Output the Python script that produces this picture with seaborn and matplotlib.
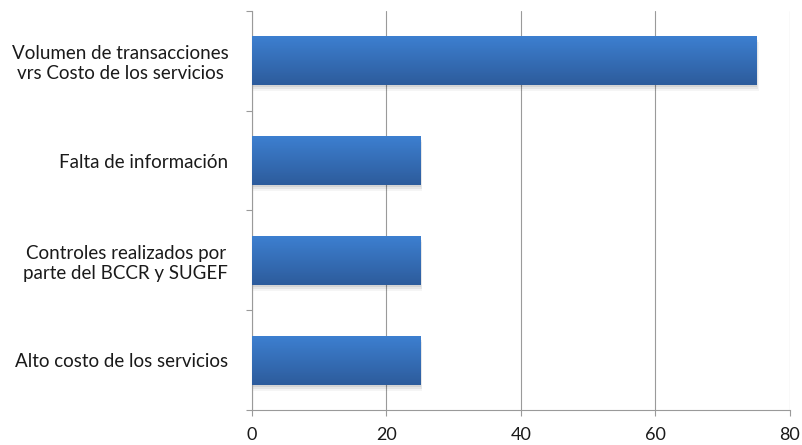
import numpy as np
import pandas as pd
import seaborn as sns
import matplotlib.pyplot as plt
from matplotlib.patches import Rectangle
from matplotlib.colors import LinearSegmentedColormap

# Data
categorias = [
    "Volumen de transacciones\nvrs Costo de los servicios",
    "Falta de información",
    "Controles realizados por\nparte del BCCR y SUGEF",
    "Alto costo de los servicios",
]
valores = [75, 25, 25, 25]
xticks = [0, 20, 40, 60, 80]

df = pd.DataFrame({"categoria": categorias, "valor": valores})

sns.set_theme(style="white")
plt.rcParams["font.family"] = ["Lato", "DejaVu Sans"]

fig = plt.figure(figsize=(8.03, 4.45), dpi=100)
ax = fig.add_axes([0.3138, 0.0787, 0.67, 0.8966])

sns.barplot(data=df, x="valor", y="categoria", orient="h", width=0.49,
            color="#3a76c4", saturation=1, ax=ax, zorder=3)

# gradient fill + soft shadow, Excel 2007 look
grad = LinearSegmentedColormap.from_list("g", ["#3d7fd0", "#2d5c9c"])
for p in list(ax.patches):
    x0, y0 = p.get_x(), p.get_y()
    w, h = p.get_width(), p.get_height()
    for k, a in enumerate([0.08, 0.06, 0.04]):
        sh = Rectangle((x0 + 0.15, y0 + 0.02 + k * 0.02), w + 0.1 * k, h,
                       facecolor="black", alpha=a, lw=0, zorder=2)
        ax.add_patch(sh)
    p.set_edgecolor("none")
    img = ax.imshow(np.linspace(0, 1, 64).reshape(-1, 1), cmap=grad,
                    aspect="auto", extent=[x0, x0 + w, y0 + h, y0],
                    origin="upper", zorder=4)
    img.set_clip_path(p)

ax.set_xlim(0, 80)
ax.set_ylim(3.5, -0.5)
ax.set_xticks(xticks)
ax.set_xlabel("")
ax.set_ylabel("")

gris = "#9a9a9a"
ax.grid(axis="x", color=gris, lw=0.8, zorder=0)
ax.grid(axis="y", visible=False)
for s in ["top", "right"]:
    ax.spines[s].set_visible(False)
for s in ["left", "bottom"]:
    ax.spines[s].set_color(gris)
    ax.spines[s].set_linewidth(0.8)

ax.set_yticks([-0.5, 0.5, 1.5, 2.5, 3.5], minor=True)
ax.tick_params(axis="y", which="major", length=0, pad=17, labelsize=13.5,
               labelcolor="#1a1a1a")
ax.tick_params(axis="y", which="minor", left=True, length=4, color=gris,
               width=0.8)
ax.tick_params(axis="x", bottom=True, length=4, color=gris, width=0.8,
               labelsize=13, labelcolor="#1a1a1a", pad=8)
for t in ax.get_yticklabels():
    t.set_multialignment("center")

fig.savefig("out.png", dpi=100)
